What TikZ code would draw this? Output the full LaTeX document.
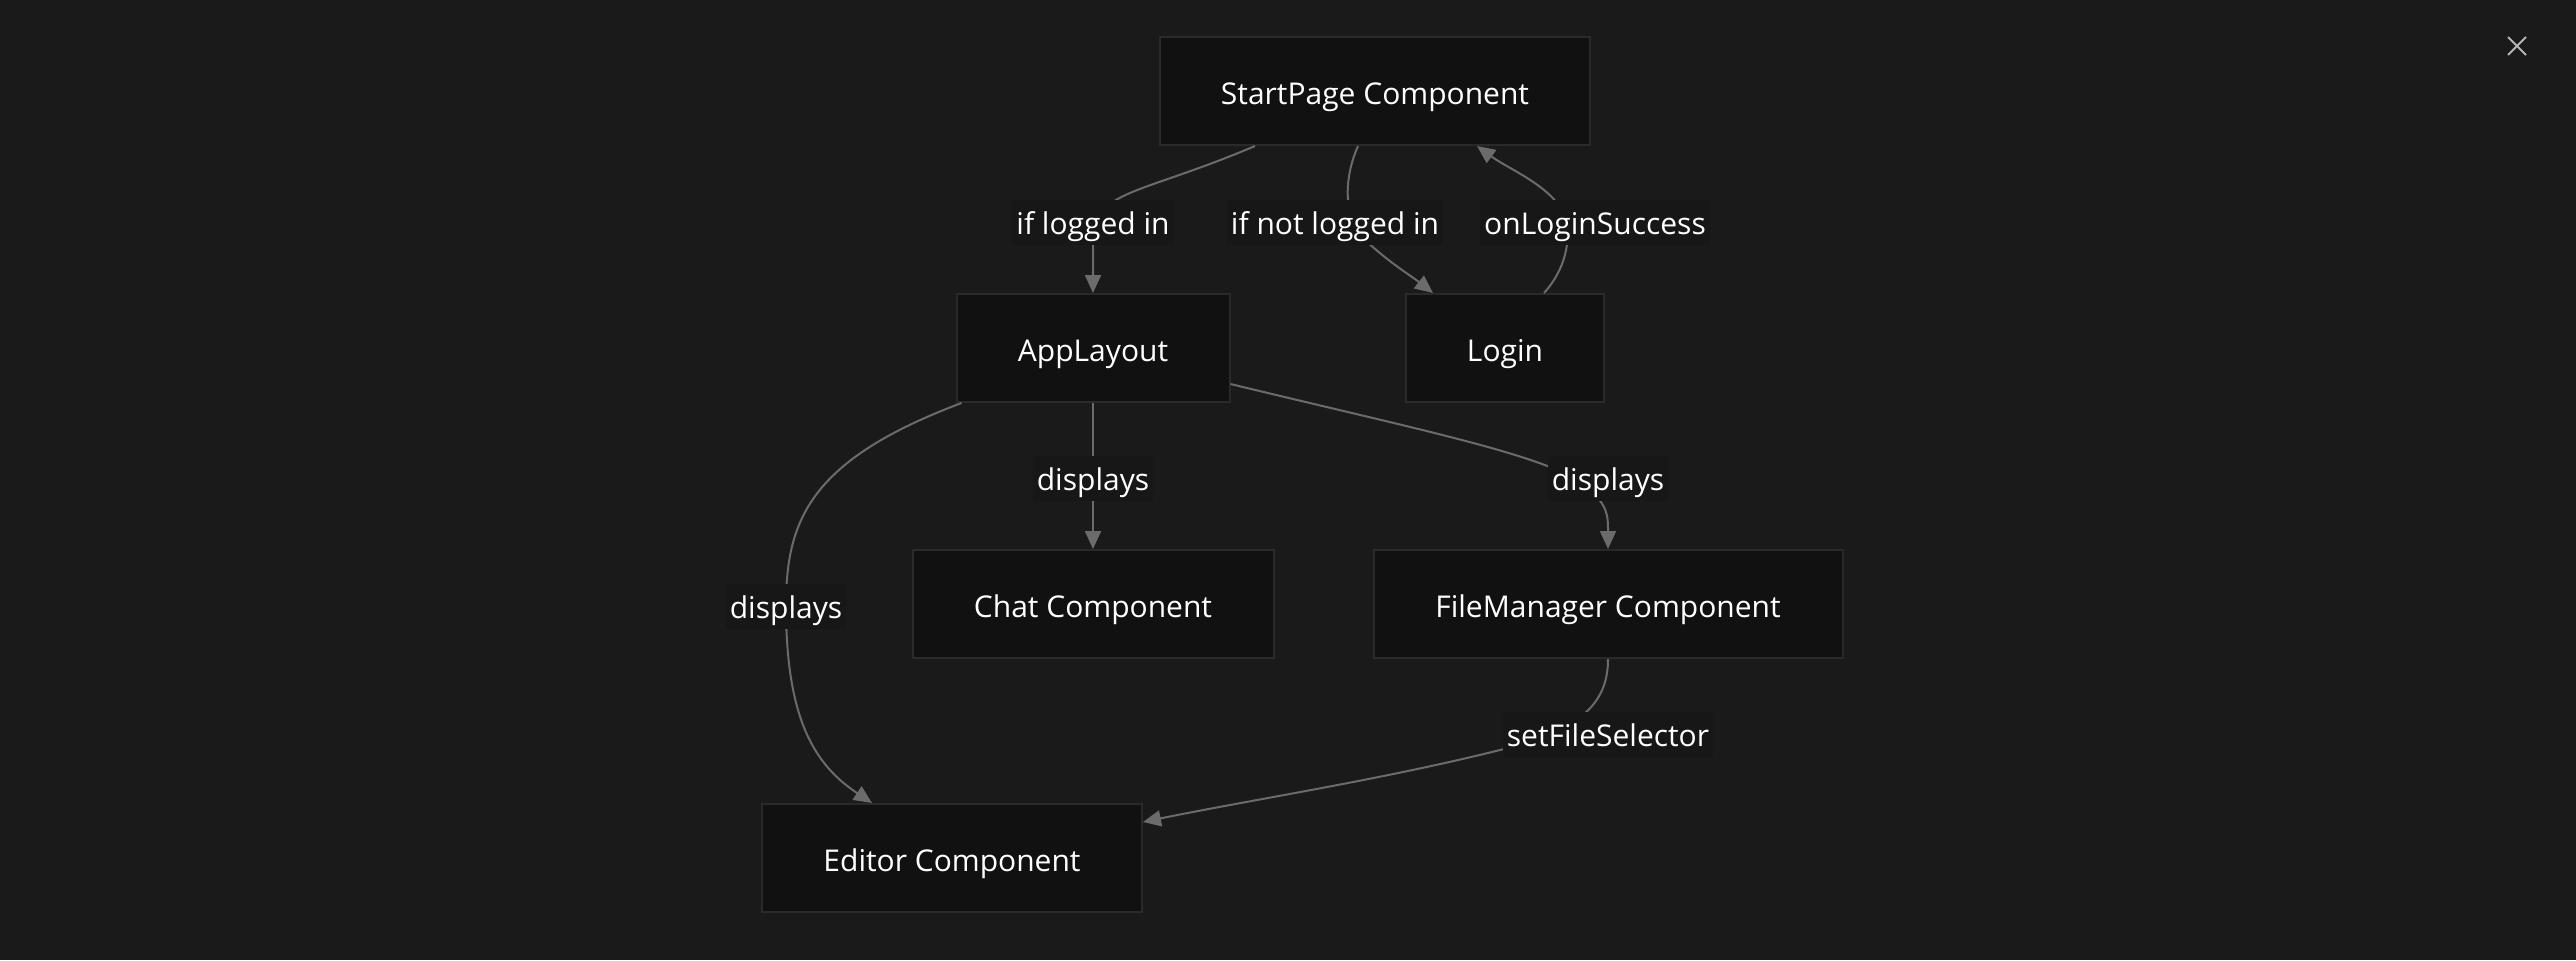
\documentclass[tikz,border=0pt]{standalone}
\usepackage{fontspec}
\setmainfont{Open Sans}
\usetikzlibrary{arrows.meta}
\definecolor{bgcol}{HTML}{1A1A1A}
\definecolor{boxfill}{HTML}{111111}
\definecolor{boxline}{HTML}{2A2A2A}
\definecolor{linkcol}{HTML}{6B6B6B}
\definecolor{lblfill}{HTML}{171717}
\definecolor{closecol}{HTML}{B4B4B4}

\begin{document}
\begin{tikzpicture}[x=0.5pt,y=-0.5pt,
comp/.style={draw=boxline,line width=1pt,fill=boxfill,text=white,minimum height=54pt,inner xsep=0pt,text height=15pt,text depth=1.5pt,font=\fontsize{15}{18}\selectfont},
lbl/.style={fill=lblfill,text=white,inner sep=2pt,text height=15.25pt,text depth=3.25pt,font=\fontsize{15}{18}\selectfont},
link/.style={draw=linkcol,line width=1pt,-{Triangle[length=9pt,width=8pt]}}]
\path[fill=bgcol] (0,0) rectangle (2576,960);
\node[comp,minimum width=215pt] (sp) at (1375,91) {StartPage Component};
\node[comp,minimum width=136.5pt] (app) at (1093,348) {AppLayout};
\node[comp,minimum width=99pt] (login) at (1505,348) {Login};
\node[comp,minimum width=180.5pt] (chat) at (1093,604) {Chat Component};
\node[comp,minimum width=234.5pt] (fm) at (1608,604) {FileManager Component};
\node[comp,minimum width=190pt] (ed) at (952,858) {Editor Component};
\draw[link] ([xshift=-60pt]sp.south) .. controls (1140,195) and (1093,190) .. (1093,240) -- (app.north);
\draw[link] ([xshift=-8.5pt]sp.south) .. controls (1343,180) and (1345,215) .. (1360,235) .. controls (1385,260) and (1410,275) .. ([xshift=-36pt]login.north);
\draw[link] ([xshift=19.5pt]login.north) .. controls (1565,270) and (1572,240) .. (1565,215) .. controls (1550,185) and (1510,170) .. ([xshift=51pt]sp.south);
\draw[link] (app.south) -- (chat.north);
\draw[link] ([yshift=-18pt]app.east) .. controls (1420,430) and (1545,455) .. (1585,485) .. controls (1608,505) and (1608,515) .. (fm.north);
\draw[link] ([xshift=3pt]app.south west) .. controls (810,460) and (786,520) .. (786,606) .. controls (786,720) and (815,765) .. ([xshift=-40pt]ed.north);
\draw[link] (fm.south) .. controls (1608,700) and (1585,730) .. (1500,750) .. controls (1380,780) and (1250,800) .. ([yshift=18pt]ed.east);
\node[lbl] (l1) at (1093,222) {if logged in};
\node[lbl] (l2) at (1335,222) {if not logged in};
\node[lbl] (l3) at (1595,222) {onLoginSuccess};
\node[lbl] (l4) at (1093,478) {displays};
\node[lbl] (l5) at (1608,478) {displays};
\node[lbl] (l6) at (786,606) {displays};
\node[lbl] (l7) at (1608,734) {setFileSelector};
\draw[closecol,line width=1pt] (2508,37) -- (2526,55) (2526,37) -- (2508,55);
\end{tikzpicture}
\end{document}
